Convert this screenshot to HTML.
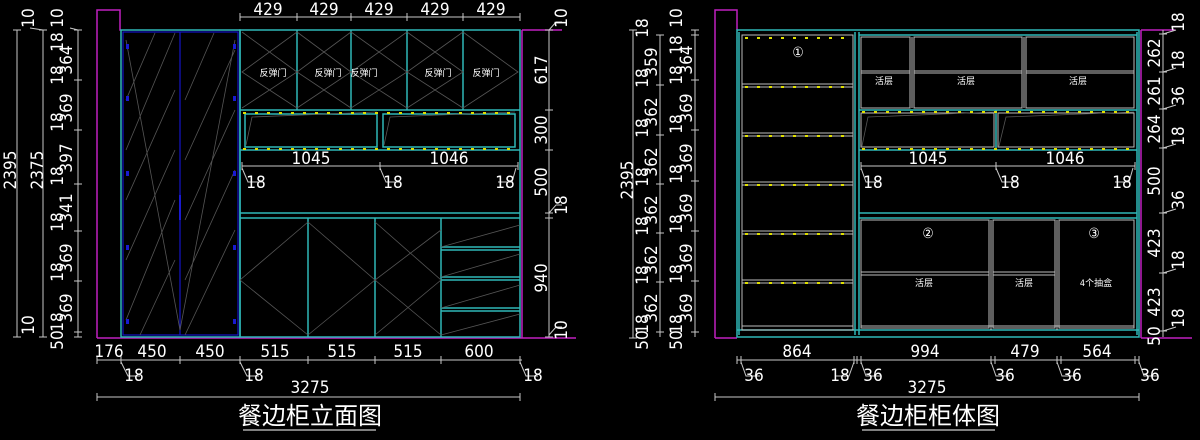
<!DOCTYPE html>
<html><head><meta charset="utf-8"><style>
html,body{margin:0;padding:0;background:#000;}
svg{display:block}
text{font-family:"DejaVu Sans Condensed","Liberation Sans Narrow","Liberation Sans","Noto Sans CJK SC",sans-serif;fill:#fff;}
.d{stroke:#c8c8c8;stroke-width:1;fill:none}
.t{stroke:#2fb8b8;stroke-width:1.5;fill:none}
.w{stroke:#bdbdbd;stroke-width:1;fill:none}
.m{stroke:#c020c0;stroke-width:1.5;fill:none}
.b{stroke:#1414c8;stroke-width:1.2;fill:none}
.g{stroke:#555;stroke-width:0.8;fill:none}
.y{stroke:#e0e000;stroke-width:2;stroke-dasharray:3,9;fill:none}
.n{font-size:17px}
.s{font-size:9px}
</style></head><body>
<svg width="1200" height="440" viewBox="0 0 1200 440" xmlns="http://www.w3.org/2000/svg">
<!-- ================= LEFT DRAWING ================= -->
<path class="m" d="M97 338V10H120V30H121M97 338H576M522 30V338M522 30H562"/>
<rect x="121" y="30" width="119" height="307" class="t"/>
<rect x="123" y="32" width="115" height="303" class="b"/>
<line x1="180" y1="32" x2="180" y2="335" class="b"/>
<path class="g" d="M126 100L155 33M126 150L175 33M126 200L175 90M126 260L175 150M126 320L175 200M140 335L175 260M126 40L180 330M185 100L214 33M185 160L235 50M185 220L235 110M185 280L235 170M185 335L235 230M235 40L180 330"/>
<g fill="#1a1ad0"><rect x="126" y="44" width="3" height="5"/><rect x="126" y="96" width="3" height="5"/><rect x="126" y="171" width="3" height="5"/><rect x="126" y="245" width="3" height="5"/><rect x="126" y="319" width="3" height="5"/><rect x="233" y="44" width="3" height="5"/><rect x="233" y="96" width="3" height="5"/><rect x="233" y="171" width="3" height="5"/><rect x="233" y="245" width="3" height="5"/><rect x="233" y="319" width="3" height="5"/><rect x="179" y="195" width="2" height="25"/></g>
<rect x="240" y="30" width="280" height="307" class="t"/>
<path class="t" d="M297 30V110M351 30V110M407 30V110M463 30V110M240 110H520M240 150H520M240 213H520M240 218H520M308 218V337M375 218V337M441 218V337M441 247H520M441 250H520M441 277H520M441 280H520M441 308H520M441 311H520M245 114V147H377V114ZM383 114V147H515V114Z"/>
<path class="g" d="M242 32L297 72L242 108M297 32L351 72L297 108M297 32L242 72L297 108M351 32L297 72L351 108M351 32L407 72L351 108M407 32L463 72L407 108M407 32L351 72L407 108M463 32L407 72L463 108M463 32L518 72L463 108M246 145L252 117L377 112M384 145L390 117L515 112M240 280L308 222M240 280L308 335M308 222L375 280L308 335M375 222L441 280L375 335M441 230L375 280L441 335M441 247L520 225M441 277L520 254M441 308L520 285M441 335L520 314"/>
<path class="y" d="M243 113H518M243 149H518"/>
<g class="s" text-anchor="middle"><text x="273" y="76">反弹门</text><text x="328" y="76">反弹门</text><text x="364" y="76">反弹门</text><text x="438" y="76">反弹门</text><text x="486" y="76">反弹门</text></g>
<path class="d" d="M240 17H520M240 13V21M297 13V21M351 13V21M407 13V21M463 13V21M520 13V21"/>
<g class="n" text-anchor="middle"><text x="268" y="15">429</text><text x="324" y="15">429</text><text x="379" y="15">429</text><text x="435" y="15">429</text><text x="491" y="15">429</text></g>
<path class="d" d="M242 166H518M242 162V170M380 162V170M518 162V170M242 168L248 182H262M380 168L386 182H400M516 168L512 182H498"/>
<g class="n" text-anchor="middle"><text x="311" y="164">1045</text><text x="449" y="164">1046</text><text x="256" y="188">18</text><text x="393" y="188">18</text><text x="505" y="188">18</text></g>
<path class="d" d="M549 30V337M545 110H553M545 150H553M545 213H553M545 218H553M545 337H553M545 30H553M549 30L556 22H562M549 213L556 205H562M549 335L556 327H562"/>
<g class="n" text-anchor="middle"><text transform="translate(547,70) rotate(-90)">617</text><text transform="translate(547,130) rotate(-90)">300</text><text transform="translate(547,182) rotate(-90)">500</text><text transform="translate(547,278) rotate(-90)">940</text><text transform="translate(567,18) rotate(-90)">10</text><text transform="translate(567,205) rotate(-90)">18</text><text transform="translate(567,330) rotate(-90)">10</text></g>
<path class="d" d="M17 30V337M13 30H21M13 337H21M43 30V337M39 30H47M39 337H47M78 30V337M74 30H82M74 80H82M74 130H82M74 184H82M74 231H82M74 281H82M74 332H82M74 337H82M43 30L30 28M78 30L70 28"/>
<g class="n" text-anchor="middle"><text transform="translate(16,170) rotate(-90)">2395</text><text transform="translate(43,170) rotate(-90)">2375</text><text transform="translate(34,18) rotate(-90)">10</text><text transform="translate(63,18) rotate(-90)">10</text><text transform="translate(34,325) rotate(-90)">10</text>
<text transform="translate(63,42) rotate(-90)">18</text><text transform="translate(72,60) rotate(-90)">364</text><text transform="translate(63,75) rotate(-90)">18</text><text transform="translate(72,108) rotate(-90)">369</text><text transform="translate(63,122) rotate(-90)">18</text><text transform="translate(72,158) rotate(-90)">397</text><text transform="translate(63,176) rotate(-90)">18</text><text transform="translate(72,208) rotate(-90)">341</text><text transform="translate(63,222) rotate(-90)">18</text><text transform="translate(72,258) rotate(-90)">369</text><text transform="translate(63,272) rotate(-90)">18</text><text transform="translate(72,308) rotate(-90)">369</text><text transform="translate(63,322) rotate(-90)">18</text><text transform="translate(63,340) rotate(-90)">50</text></g>
<path class="d" d="M97 360H522M97 356V364M121 356V364M180 356V364M240 356V364M308 356V364M375 356V364M441 356V364M520 356V364M121 362L128 376H140M240 362L247 376H259M520 362L526 376H538M97 397H520M97 393V401M520 393V401"/>
<g class="n" text-anchor="middle"><text x="109" y="357">176</text><text x="152" y="357">450</text><text x="210" y="357">450</text><text x="275" y="357">515</text><text x="342" y="357">515</text><text x="408" y="357">515</text><text x="479" y="357">600</text><text x="134" y="381">18</text><text x="254" y="381">18</text><text x="533" y="381">18</text><text x="310" y="393">3275</text></g>
<text x="310" y="424" text-anchor="middle" style="font-size:24px">餐边柜立面图</text>
<line x1="243" y1="430" x2="376" y2="430" stroke="#fff" stroke-width="1"/>

<!-- ================= RIGHT DRAWING ================= -->
<path class="m" d="M715 338V10H737V30M715 338H737M1141 30V338M1141 30H1175M1141 338H1192"/>
<rect x="737" y="30" width="402" height="307" class="t"/>
<path class="t" d="M739 32V335M855 32V335M859 32V335M1137 32V335M737 330H1139M859 110H1137M859 150H1137M859 213H1137M859 218H1137M859 35H1137M996 110V150"/>
<path class="w" d="M742 35H853V330H742ZM742 84H853M742 87H853M742 133H853M742 136H853M742 182H853M742 185H853M742 231H853M742 234H853M742 280H853M742 283H853M742 326H853"/>
<path class="y" d="M745 38H852M745 87H852M745 136H852M745 185H852M745 234H852M745 283H852"/>
<path class="w" d="M861 37H910V108H861ZM914 37H1022V108H914ZM1026 37H1134V108H1026ZM861 71H910M861 73H910M914 71H1022M914 73H1022M1026 71H1134M1026 73H1134M912 37V108M1024 37V108"/>
<path class="w" d="M861 113H994V147H861ZM998 113H1134V147H998Z"/>
<path class="g" d="M862 146L868 117L994 112M999 146L1006 117L1134 112"/>
<path class="y" d="M862 112H1134M862 149H1134"/>
<path class="w" d="M861 220H989V328H861ZM993 220H1055V328H993ZM1059 220H1134V328H1059ZM861 272H989M861 275H989M993 272H1055M993 275H1055M991 220V330M1057 220V330M861 326H1134"/>
<g class="s" text-anchor="middle"><text x="884" y="84">活层</text><text x="966" y="84">活层</text><text x="1078" y="84">活层</text><text x="924" y="286">活层</text><text x="1024" y="286">活层</text><text x="1096" y="286">4个抽盒</text></g>
<g text-anchor="middle" style="font-size:14px"><text x="798" y="57">①</text><text x="928" y="238">②</text><text x="1094" y="238">③</text></g>
<path class="d" d="M861 166H1135M861 162V170M996 162V170M1135 162V170M861 168L866 182H880M996 168L1002 182H1016M1133 168L1129 182H1115"/>
<g class="n" text-anchor="middle"><text x="928" y="164">1045</text><text x="1065" y="164">1046</text><text x="873" y="188">18</text><text x="1010" y="188">18</text><text x="1122" y="188">18</text></g>
<path class="d" d="M1163 30V337M1159 34H1167M1159 72H1167M1159 109H1167M1159 148H1167M1159 213H1167M1159 273H1167M1159 331H1167M1163 34L1176 30M1163 72L1176 68M1163 109L1176 105M1163 148L1176 144M1163 213L1176 209M1163 273L1176 269M1163 331L1176 327"/>
<g class="n" text-anchor="middle"><text transform="translate(1160,53) rotate(-90)">262</text><text transform="translate(1160,91) rotate(-90)">261</text><text transform="translate(1160,129) rotate(-90)">264</text><text transform="translate(1160,181) rotate(-90)">500</text><text transform="translate(1160,243) rotate(-90)">423</text><text transform="translate(1160,302) rotate(-90)">423</text><text transform="translate(1160,336) rotate(-90)">50</text>
<text transform="translate(1184,22) rotate(-90)">18</text><text transform="translate(1184,60) rotate(-90)">18</text><text transform="translate(1184,96) rotate(-90)">36</text><text transform="translate(1184,136) rotate(-90)">18</text><text transform="translate(1184,200) rotate(-90)">36</text><text transform="translate(1184,260) rotate(-90)">18</text><text transform="translate(1184,318) rotate(-90)">18</text></g>
<path class="d" d="M633 30V338M629 30H637M629 338H637M660 35V337M656 35H664M656 85H664M656 135H664M656 184H664M656 233H664M656 282H664M656 332H664M695 30V337M691 30H699M691 35H699M691 80H699M691 130H699M691 181H699M691 231H699M691 281H699M691 332H699"/>
<g class="n" text-anchor="middle"><text transform="translate(633,180) rotate(-90)">2395</text>
<text transform="translate(648,28) rotate(-90)">18</text><text transform="translate(657,62) rotate(-90)">359</text><text transform="translate(648,78) rotate(-90)">18</text><text transform="translate(657,112) rotate(-90)">362</text><text transform="translate(648,128) rotate(-90)">18</text><text transform="translate(657,162) rotate(-90)">362</text><text transform="translate(648,177) rotate(-90)">18</text><text transform="translate(657,210) rotate(-90)">362</text><text transform="translate(648,226) rotate(-90)">18</text><text transform="translate(657,260) rotate(-90)">362</text><text transform="translate(648,275) rotate(-90)">18</text><text transform="translate(657,308) rotate(-90)">362</text><text transform="translate(648,324) rotate(-90)">18</text><text transform="translate(648,340) rotate(-90)">50</text>
<text transform="translate(682,18) rotate(-90)">10</text><text transform="translate(682,45) rotate(-90)">18</text><text transform="translate(692,60) rotate(-90)">364</text><text transform="translate(682,75) rotate(-90)">18</text><text transform="translate(692,108) rotate(-90)">369</text><text transform="translate(682,124) rotate(-90)">18</text><text transform="translate(692,158) rotate(-90)">369</text><text transform="translate(682,174) rotate(-90)">18</text><text transform="translate(692,208) rotate(-90)">369</text><text transform="translate(682,224) rotate(-90)">18</text><text transform="translate(692,258) rotate(-90)">369</text><text transform="translate(682,274) rotate(-90)">18</text><text transform="translate(692,308) rotate(-90)">369</text><text transform="translate(682,324) rotate(-90)">18</text><text transform="translate(682,340) rotate(-90)">50</text></g>
<path class="d" d="M737 360H1139M737 356V364M741 356V364M854 356V364M857 356V364M861 356V364M991 356V364M995 356V364M1057 356V364M1061 356V364M1135 356V364M1139 356V364M741 362L746 376H760M854 362L849 376H835M861 362L866 376H880M991 362L996 376H1010M1057 362L1062 376H1076M1139 362L1144 376H1158M715 397H1139M715 393V401M1139 393V401"/>
<g class="n" text-anchor="middle"><text x="797" y="357">864</text><text x="925" y="357">994</text><text x="1025" y="357">479</text><text x="1097" y="357">564</text><text x="754" y="381">36</text><text x="840" y="381">18</text><text x="873" y="381">36</text><text x="1005" y="381">36</text><text x="1072" y="381">36</text><text x="1150" y="381">36</text><text x="927" y="393">3275</text></g>
<text x="928" y="424" text-anchor="middle" style="font-size:24px">餐边柜柜体图</text>
<line x1="862" y1="430" x2="995" y2="430" stroke="#fff" stroke-width="1"/>
</svg>
</body></html>
